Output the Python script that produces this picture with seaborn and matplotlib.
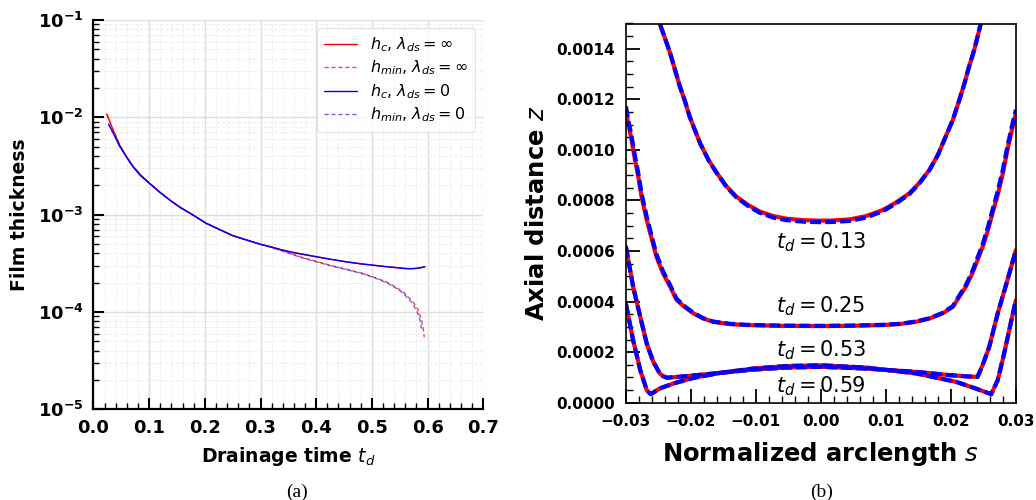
import numpy as np
import pandas as pd
import matplotlib
matplotlib.use("Agg")
import matplotlib.pyplot as plt
import matplotlib.ticker as mticker
import seaborn as sns

# ---------------- data: panel (a) ----------------
t_hc_inf = [0.024, 0.035, 0.047, 0.060, 0.071, 0.085, 0.101, 0.120, 0.137, 0.155, 0.178,
            0.202, 0.225, 0.250, 0.275, 0.298, 0.320, 0.335, 0.358, 0.394, 0.424, 0.454,
            0.480, 0.502, 0.525, 0.544, 0.560, 0.570, 0.580, 0.588, 0.595]
hc_inf = [1.08e-2, 7.5e-3, 5.2e-3, 3.9e-3, 3.15e-3, 2.55e-3, 2.1e-3, 1.69e-3, 1.42e-3, 1.2e-3, 1.0e-3,
          8.2e-4, 7.1e-4, 6.1e-4, 5.5e-4, 5.0e-4, 4.65e-4, 4.4e-4, 4.1e-4, 3.76e-4, 3.5e-4, 3.28e-4,
          3.13e-4, 3.03e-4, 2.93e-4, 2.86e-4, 2.8e-4, 2.79e-4, 2.81e-4, 2.86e-4, 2.92e-4]

t_hmin_inf = [0.024, 0.035, 0.047, 0.060, 0.071, 0.085, 0.101, 0.120, 0.137, 0.155, 0.178,
              0.202, 0.225, 0.250, 0.275, 0.298, 0.320, 0.335, 0.358, 0.371, 0.400, 0.424,
              0.455, 0.484, 0.505, 0.526, 0.542, 0.556, 0.566, 0.574, 0.583, 0.589, 0.592, 0.594]
hmin_inf = [1.08e-2, 7.5e-3, 5.2e-3, 3.9e-3, 3.15e-3, 2.55e-3, 2.1e-3, 1.69e-3, 1.42e-3, 1.2e-3, 1.0e-3,
            8.2e-4, 7.1e-4, 6.1e-4, 5.5e-4, 5.0e-4, 4.62e-4, 4.35e-4, 3.91e-4, 3.69e-4, 3.31e-4, 3.03e-4,
            2.74e-4, 2.49e-4, 2.26e-4, 2.04e-4, 1.81e-4, 1.61e-4, 1.41e-4, 1.27e-4, 1.05e-4, 8.3e-5, 6.8e-5, 5.5e-5]

t_hc_0 = [0.027, 0.035, 0.047, 0.060, 0.071, 0.085, 0.101, 0.120, 0.137, 0.155, 0.178,
          0.202, 0.225, 0.250, 0.275, 0.298, 0.320, 0.335, 0.358, 0.394, 0.424, 0.454,
          0.480, 0.502, 0.525, 0.544, 0.560, 0.570, 0.580, 0.588, 0.595]
hc_0 = [8.5e-3, 7.0e-3, 5.05e-3, 3.85e-3, 3.1e-3, 2.5e-3, 2.08e-3, 1.68e-3, 1.41e-3, 1.19e-3, 9.95e-4,
        8.15e-4, 7.08e-4, 6.08e-4, 5.48e-4, 4.99e-4, 4.63e-4, 4.38e-4, 4.08e-4, 3.74e-4, 3.49e-4, 3.27e-4,
        3.12e-4, 3.02e-4, 2.92e-4, 2.85e-4, 2.79e-4, 2.78e-4, 2.8e-4, 2.85e-4, 2.91e-4]

t_hmin_0 = [0.027, 0.035, 0.047, 0.060, 0.071, 0.085, 0.101, 0.120, 0.137, 0.155, 0.178,
            0.202, 0.225, 0.250, 0.275, 0.298, 0.320, 0.335, 0.358, 0.371, 0.400, 0.424,
            0.455, 0.484, 0.505, 0.526, 0.542, 0.556, 0.566, 0.574, 0.582, 0.587, 0.590]
hmin_0 = [8.5e-3, 7.0e-3, 5.05e-3, 3.85e-3, 3.1e-3, 2.5e-3, 2.08e-3, 1.68e-3, 1.41e-3, 1.19e-3, 9.95e-4,
          8.15e-4, 7.08e-4, 6.08e-4, 5.48e-4, 4.99e-4, 4.6e-4, 4.3e-4, 3.88e-4, 3.65e-4, 3.28e-4, 3.0e-4,
          2.72e-4, 2.46e-4, 2.24e-4, 2.0e-4, 1.78e-4, 1.56e-4, 1.36e-4, 1.2e-4, 9.8e-5, 8.0e-5, 6.3e-5]

legend_labels = [r"$h_c$, $\lambda_{ds}=\infty$", r"$h_{min}$, $\lambda_{ds}=\infty$",
                 r"$h_c$, $\lambda_{ds}=0$", r"$h_{min}$, $\lambda_{ds}=0$"]

# ---------------- data: panel (b) ----------------
s_013 = [-0.0255, -0.0248, -0.0240, -0.0232, -0.02246, -0.0217, -0.0209, -0.0202, -0.0194, -0.0186,
         -0.0173, -0.0160, -0.0145, -0.0130, -0.0112, -0.0094, -0.0073, -0.0053, -0.0027, 0.0,
         0.0018, 0.0044, 0.0069, 0.0095, 0.0115, 0.0136, 0.0151, 0.0167, 0.0180, 0.0192,
         0.0203, 0.0213, 0.0221, 0.0228, 0.0236, 0.0246, 0.0253]
z013_inf = [0.00155, 0.00150, 0.001442, 0.001383, 0.001317, 0.001251, 0.001191, 0.001132, 0.001079, 0.001027,
            0.000960, 0.000908, 0.000855, 0.000815, 0.000782, 0.000756, 0.000738, 0.000728, 0.000722, 0.000720,
            0.000721, 0.000725, 0.000738, 0.000762, 0.000791, 0.000828, 0.000868, 0.000921, 0.000980, 0.001053,
            0.001119, 0.001198, 0.001264, 0.001330, 0.001396, 0.00150, 0.00155]
z013_0 = [0.00155, 0.00150, 0.001442, 0.001383, 0.001317, 0.001251, 0.001191, 0.001132, 0.001079, 0.001027,
          0.000960, 0.000907, 0.000853, 0.000812, 0.000778, 0.000751, 0.000732, 0.000722, 0.000716, 0.000714,
          0.000715, 0.000719, 0.000732, 0.000757, 0.000787, 0.000825, 0.000866, 0.000920, 0.000980, 0.001053,
          0.001119, 0.001198, 0.001264, 0.001330, 0.001396, 0.00150, 0.00155]

s_025 = [-0.0300, -0.02966, -0.02914, -0.0286, -0.0281, -0.0276, -0.0268, -0.0260, -0.0253, -0.0243,
         -0.0232, -0.0222, -0.0209, -0.0196, -0.0181, -0.0166, -0.0140, -0.0114, -0.0063, 0.0,
         0.0044, 0.0095, 0.0121, 0.0146, 0.0167, 0.0187, 0.0203, 0.0213, 0.0223, 0.0233,
         0.0241, 0.0249, 0.0257, 0.0264, 0.0272, 0.0280, 0.0287, 0.0295, 0.0300]
z025_inf = [0.001158, 0.001106, 0.001040, 0.000960, 0.000894, 0.000815, 0.000723, 0.000644, 0.000577, 0.000512,
            0.000459, 0.000406, 0.000377, 0.000353, 0.000333, 0.000320, 0.000311, 0.000307, 0.000304, 0.000303,
            0.000304, 0.000307, 0.000311, 0.000320, 0.000333, 0.000353, 0.000379, 0.000419, 0.000459, 0.000512,
            0.000564, 0.000617, 0.000683, 0.000749, 0.000822, 0.000908, 0.001000, 0.001092, 0.001145]
z025_0 = [0.001172, 0.001120, 0.001054, 0.000974, 0.000907, 0.000828, 0.000735, 0.000655, 0.000587, 0.000520,
          0.000465, 0.000411, 0.000380, 0.000355, 0.000334, 0.000321, 0.000312, 0.000308, 0.000305, 0.000304,
          0.000305, 0.000308, 0.000312, 0.000321, 0.000334, 0.000355, 0.000382, 0.000424, 0.000465, 0.000520,
          0.000574, 0.000628, 0.000695, 0.000762, 0.000836, 0.000922, 0.001014, 0.001106, 0.001159]

s_053 = [-0.0300, -0.0289, -0.0278, -0.0268, -0.0258, -0.0248, -0.0243, -0.0237, -0.0225, -0.0207,
         -0.0155, -0.0104, -0.0053, 0.0, 0.0069, 0.0146, 0.0198, 0.0225, 0.0241, 0.0249,
         0.0259, 0.0272, 0.0287, 0.0300]
z053 = [0.000617, 0.000459, 0.000340, 0.000234, 0.000162, 0.000116, 0.000105, 0.000099, 0.000101, 0.000105,
        0.000118, 0.000131, 0.000139, 0.000142, 0.000135, 0.000122, 0.000109, 0.000104, 0.000102, 0.000150,
        0.000221, 0.000353, 0.000485, 0.000604]

s_059 = [-0.0300, -0.0289, -0.0278, -0.0268, -0.0262, -0.0248, -0.0227, -0.0196, -0.0155, -0.0104,
         -0.0053, 0.0, 0.0069, 0.0146, 0.0208, 0.0238, 0.0262, 0.0272, 0.0282, 0.0292, 0.0300]
z059 = [0.000390, 0.000248, 0.000129, 0.0000495, 0.0000337, 0.0000562, 0.000076, 0.0000982, 0.000118, 0.000135,
        0.000145, 0.000148, 0.000139, 0.000116, 0.0000825, 0.0000562, 0.0000337, 0.0000891, 0.000195, 0.000314,
        0.000406]

profile_labels = [r"$t_d = 0.13$", r"$t_d = 0.25$", r"$t_d = 0.53$", r"$t_d = 0.59$"]
label_z = [0.000612, 0.000356, 0.000184, 0.0000388]

# ---------------- style ----------------
sns.set_style("white")
plt.rcParams["font.family"] = ["DejaVu Sans"]
plt.rcParams["mathtext.fontset"] = "dejavusans"
for key in ["text.color", "axes.labelcolor", "xtick.color", "ytick.color", "axes.edgecolor"]:
    plt.rcParams[key] = "black"

fig = plt.figure(figsize=(10.36, 5.0), dpi=100)
axa = fig.add_axes([0.0902, 0.1814, 0.3763, 0.7786])
axb = fig.add_axes([0.6042, 0.1946, 0.3764, 0.7584])

# ---------------- panel (a) ----------------
axa.set_yscale("log")
sns.lineplot(x=t_hc_inf, y=hc_inf, ax=axa, color="red", lw=1.0, sort=False, estimator=None,
             label=legend_labels[0])
sns.lineplot(x=t_hmin_inf, y=hmin_inf, ax=axa, color="red", lw=1.0, alpha=0.75, linestyle=(0, (3, 2)),
             sort=False, estimator=None, label=legend_labels[1])
sns.lineplot(x=t_hc_0, y=hc_0, ax=axa, color="blue", lw=1.0, sort=False, estimator=None,
             label=legend_labels[2])
sns.lineplot(x=t_hmin_0, y=hmin_0, ax=axa, color="blue", lw=1.0, alpha=0.6, linestyle=(0, (3, 2)),
             sort=False, estimator=None, label=legend_labels[3])

axa.set_xlim(0, 0.7)
axa.set_ylim(1e-5, 1e-1)
axa.xaxis.set_major_locator(mticker.MultipleLocator(0.1))
axa.xaxis.set_minor_locator(mticker.MultipleLocator(0.02))
axa.yaxis.set_major_locator(mticker.LogLocator(base=10, numticks=10))
axa.yaxis.set_minor_locator(mticker.LogLocator(base=10, subs=np.arange(2, 10), numticks=20))
axa.yaxis.set_major_formatter(mticker.FuncFormatter(
    lambda v, p: r"$\mathbf{10^{%d}}$" % int(round(np.log10(v)))))
axa.xaxis.set_major_formatter(mticker.FuncFormatter(lambda v, p: "%.1f" % v))
axa.grid(True, which="major", color="#dddddd", lw=1.0)
axa.grid(True, which="minor", color="#eeeeee", lw=0.7, ls="--")
axa.set_axisbelow(True)
for side in ["top", "right"]:
    axa.spines[side].set_visible(False)
for side in ["left", "bottom"]:
    axa.spines[side].set_color("black")
    axa.spines[side].set_linewidth(1.6)
axa.tick_params(which="major", direction="in", length=8, width=1.5, labelsize=13, pad=7,
                left=True, bottom=True, colors="black")
axa.tick_params(which="minor", direction="in", length=4, width=1.0, left=True, bottom=True,
                colors="black")
for lab in axa.get_xticklabels() + axa.get_yticklabels():
    lab.set_fontweight("bold")
axa.set_xlabel(r"Drainage time $t_d$", fontsize=13.5, fontweight="bold", labelpad=6, color="black")
axa.set_ylabel("Film thickness", fontsize=13.5, fontweight="bold", labelpad=6, color="black")
leg = axa.legend(loc="upper right", fontsize=11.5, frameon=True, fancybox=True, labelspacing=0.3,
                 handlelength=2.1, borderpad=0.45)
leg.get_frame().set_edgecolor("#dddddd")
leg.get_frame().set_linewidth(0.8)
for txt in leg.get_texts():
    txt.set_color("black")

# ---------------- panel (b) ----------------
profiles_inf = [(s_013, z013_inf), (s_025, z025_inf), (s_053, z053), (s_059, z059)]
profiles_0 = [(s_013, z013_0), (s_025, z025_0), (s_053, z053), (s_059, z059)]
for (s, z) in profiles_inf:
    sns.lineplot(x=s, y=z, ax=axb, color="red", lw=3.0, sort=False, estimator=None)
for (s, z) in profiles_0:
    sns.lineplot(x=s, y=z, ax=axb, color="blue", lw=3.0, sort=False, estimator=None,
                 linestyle=(0, (2.6, 1.0)))
for lab, zz in zip(profile_labels, label_z):
    axb.text(0.0, zz, lab, ha="center", va="baseline", fontsize=15, color="black")

axb.set_xlim(-0.03, 0.03)
axb.set_ylim(0, 0.0015)
axb.xaxis.set_major_locator(mticker.MultipleLocator(0.01))
axb.xaxis.set_minor_locator(mticker.MultipleLocator(0.002))
axb.yaxis.set_major_locator(mticker.MultipleLocator(0.0002))
axb.yaxis.set_minor_locator(mticker.MultipleLocator(0.00005))
axb.xaxis.set_major_formatter(mticker.FuncFormatter(
    lambda v, p: ("%.2f" % (0.0 if abs(v) < 1e-9 else v)).replace("-", "\u2212")))
axb.yaxis.set_major_formatter(mticker.FuncFormatter(lambda v, p: "%.4f" % (0.0 if abs(v) < 1e-12 else v)))
for side in ["top", "right", "left", "bottom"]:
    axb.spines[side].set_visible(True)
    axb.spines[side].set_color("black")
    axb.spines[side].set_linewidth(1.2)
axb.tick_params(which="major", direction="in", length=10, width=1.3, labelsize=11, pad=8,
                left=True, bottom=True, colors="black")
axb.tick_params(which="minor", direction="in", length=5, width=1.0, left=True, bottom=True,
                colors="black")
for lab in axb.get_xticklabels() + axb.get_yticklabels():
    lab.set_fontweight("bold")
axb.set_xlabel(r"Normalized arclength $s$", fontsize=17.5, fontweight="bold", labelpad=8, color="black")
axb.set_ylabel(r"Axial distance $z$", fontsize=17.5, fontweight="bold", labelpad=5, color="black")

# ---------------- captions ----------------
fig.text(0.287, 0.016, "(a)", ha="center", va="center", fontsize=14, family="Liberation Serif")
fig.text(0.793, 0.016, "(b)", ha="center", va="center", fontsize=14, family="Liberation Serif")

fig.savefig("out.png", dpi=100)
